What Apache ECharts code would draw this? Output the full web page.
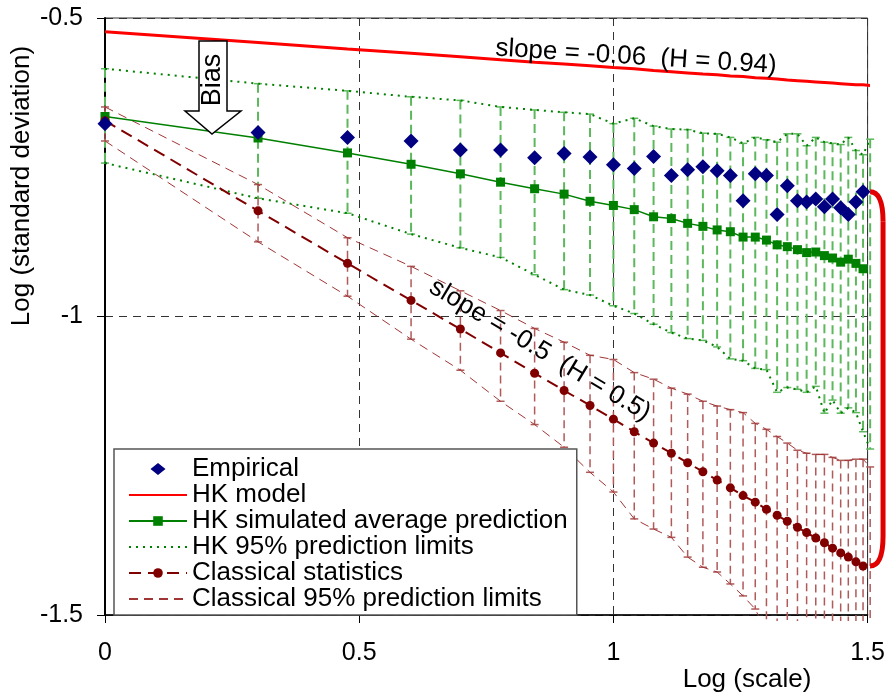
<!DOCTYPE html>
<html><head><meta charset="utf-8">
<script src="https://cdn.jsdelivr.net/npm/echarts@6/dist/echarts.min.js"></script>
<style>html,body{margin:0;padding:0;background:#fff}#c{width:888px;height:695px}</style>
</head><body><div id="c"></div>
<script>
// Log(scale) for scales k = 1..32
const logScale = [0, 0.301, 0.477, 0.602, 0.699, 0.778, 0.845, 0.903, 0.954, 1.000, 1.041, 1.079, 1.114, 1.146, 1.176, 1.204, 1.230, 1.255, 1.279, 1.301, 1.322, 1.342, 1.362, 1.380, 1.398, 1.415, 1.431, 1.447, 1.462, 1.477, 1.491, 1.505];
const empirical = [-0.677, -0.692, -0.700, -0.706, -0.721, -0.721, -0.734, -0.727, -0.733, -0.746, -0.752, -0.732, -0.764, -0.754, -0.749, -0.756, -0.764, -0.806, -0.761, -0.764, -0.829, -0.781, -0.806, -0.808, -0.803, -0.816, -0.803, -0.818, -0.829, -0.808, -0.791];
const hkModel = [-0.523, -0.541, -0.552, -0.559, -0.565, -0.570, -0.574, -0.577, -0.580, -0.583, -0.585, -0.588, -0.590, -0.592, -0.594, -0.595, -0.597, -0.598, -0.600, -0.601, -0.602, -0.604, -0.605, -0.606, -0.607, -0.608, -0.609, -0.610, -0.611, -0.612, -0.612, -0.613];
const hkAverage = [-0.665, -0.701, -0.726, -0.745, -0.761, -0.775, -0.786, -0.795, -0.807, -0.814, -0.821, -0.833, -0.836, -0.844, -0.849, -0.855, -0.858, -0.867, -0.867, -0.872, -0.880, -0.883, -0.888, -0.893, -0.892, -0.898, -0.902, -0.909, -0.904, -0.911, -0.920];
const hkUpper = [-0.585, -0.610, -0.622, -0.632, -0.638, -0.649, -0.654, -0.658, -0.661, -0.677, -0.668, -0.681, -0.686, -0.687, -0.693, -0.694, -0.700, -0.710, -0.700, -0.704, -0.708, -0.694, -0.694, -0.714, -0.700, -0.708, -0.710, -0.712, -0.700, -0.722, -0.729, -0.703];
const hkLower = [-0.743, -0.802, -0.827, -0.862, -0.885, -0.901, -0.930, -0.955, -0.964, -0.982, -0.995, -1.013, -1.027, -1.037, -1.040, -1.051, -1.071, -1.074, -1.087, -1.089, -1.127, -1.119, -1.122, -1.127, -1.117, -1.162, -1.140, -1.162, -1.153, -1.161, -1.193, -1.222];
const classical = [-0.672, -0.823, -0.911, -0.973, -1.021, -1.061, -1.095, -1.124, -1.149, -1.172, -1.193, -1.212, -1.229, -1.245, -1.260, -1.274, -1.287, -1.300, -1.311, -1.323, -1.333, -1.343, -1.353, -1.362, -1.371, -1.379, -1.388, -1.396, -1.403, -1.411, -1.418];
const clsUpper = [-0.649, -0.779, -0.868, -0.916, -0.957, -0.990, -1.020, -1.043, -1.065, -1.072, -1.094, -1.105, -1.120, -1.130, -1.142, -1.150, -1.156, -1.161, -1.179, -1.189, -1.201, -1.212, -1.224, -1.229, -1.231, -1.231, -1.236, -1.241, -1.241, -1.239, -1.239, -1.252];
const clsLower = [-0.706, -0.875, -0.966, -1.038, -1.090, -1.142, -1.181, -1.219, -1.261, -1.294, -1.339, -1.356, -1.370, -1.403, -1.420, -1.428, -1.448, -1.468, -1.490, -1.530, -1.550, -1.560, -1.570, -1.580, -1.590, -1.600, -1.610, -1.620, -1.630, -1.640, -1.650, -1.660];
const xTicks = ['0', '0.5', '1', '1.5'];
const legendNames = ['Empirical', 'HK model', 'HK simulated average prediction', 'HK 95% prediction limits', 'Classical statistics', 'Classical 95% prediction limits'];

const FONT = '"Liberation Sans", Arial, sans-serif';
const pair = ys => ys.map((v, i) => [logScale[i], v]);
const bars = (lo, hi) => lo.map((v, i) => [logScale[i], v, hi[i]]);
// legend icon: diamond centred in a 58 x 12 box (zero-length moves fix the box size)
const DIAMOND_ICON = 'path://M0,0L0.01,0M58,12L57.99,12M21.5,6L29,0L36.5,6L29,12Z';

function barRenderer(color, width, dash, cap, bottomClip) {
  return function (params, api) {
    const x = api.value(0);
    const a = api.coord([x, api.value(2)]);
    const b = api.coord([x, api.value(1)]);
    const children = [];
    let by = b[1];
    let showLowCap = true;
    if (bottomClip) {
      const yb = api.coord([0, -1.5])[1];
      if (by > yb + 6) { by = yb + 6; showLowCap = false; }
    }
    children.push({ type: 'line', shape: { x1: a[0], y1: a[1], x2: b[0], y2: by }, style: { stroke: color, lineWidth: width, lineDash: dash } });
    children.push({ type: 'line', shape: { x1: a[0] - cap, y1: a[1], x2: a[0] + cap, y2: a[1] }, style: { stroke: color, lineWidth: 1.5 } });
    if (showLowCap) children.push({ type: 'line', shape: { x1: b[0] - cap, y1: b[1], x2: b[0] + cap, y2: b[1] }, style: { stroke: color, lineWidth: 1.5 } });
    return { type: 'group', children };
  };
}

const chart = echarts.init(document.getElementById('c'));
const last = empirical.length - 1;
chart.setOption({
  animation: false,
  textStyle: { fontFamily: FONT },
  grid: { left: 105, top: 18, right: 18, bottom: 80, show: true, borderColor: '#333', borderWidth: 1 },
  xAxis: {
    type: 'value', min: 0, max: 1.5, interval: 0.5,
    axisLine: { onZero: false, lineStyle: { color: '#000', width: 1.5 } },
    axisTick: { length: 8, lineStyle: { color: '#000', width: 1 } },
    axisLabel: { fontSize: 25, color: '#000', margin: 26, fontFamily: FONT, showMaxLabel: true, showMinLabel: true,
      formatter: v => xTicks[Math.round(v / 0.5)] },
    splitLine: { show: true, lineStyle: { color: '#333', width: 1, type: [8, 6] } }
  },
  yAxis: {
    type: 'value', min: -1.5, max: -0.5, interval: 0.5,
    axisLine: { show: true, onZero: false, lineStyle: { color: '#000', width: 2 } },
    axisTick: { show: true, length: 8, lineStyle: { color: '#000', width: 1 } },
    axisLabel: { fontSize: 25, color: '#000', margin: 22, fontFamily: FONT },
    splitLine: { show: true, lineStyle: { color: '#333', width: 1, type: [8, 6] } }
  },
  legend: {
    orient: 'vertical', left: 114, top: 449,
    padding: [7, 9, 3, 14], itemGap: 0, itemWidth: 58, itemHeight: 12,
    backgroundColor: '#fff', borderColor: '#555', borderWidth: 1.5, borderRadius: 0,
    textStyle: { fontSize: 26, lineHeight: 25, color: '#000', fontFamily: FONT },
    data: [
      { name: legendNames[0], icon: DIAMOND_ICON, itemStyle: { opacity: 1 } },
      { name: legendNames[1], itemStyle: { opacity: 0 } },
      { name: legendNames[2] },
      { name: legendNames[3], itemStyle: { opacity: 0 } },
      { name: legendNames[4] },
      { name: legendNames[5], itemStyle: { opacity: 0 } }
    ],
    selectedMode: false
  },
  graphic: [
    { type: 'polygon', z: 50, shape: { points: [[199, 41], [227, 41], [227, 111], [241, 111], [212, 134], [185, 111], [199, 111]] },
      style: { fill: '#fff', stroke: '#000', lineWidth: 1.5 } },
    { type: 'text', z: 51, x: 213, y: 80, rotation: Math.PI / 2,
      style: { text: 'Bias', font: '27px ' + FONT, fill: '#000', align: 'center', verticalAlign: 'middle', textAlign: 'center', textVerticalAlign: 'middle' } },
    { type: 'text', z: 51, x: 636, y: 57, rotation: -0.062,
      style: { text: 'slope = -0.06  (H = 0.94)', font: '26px ' + FONT, fill: '#000', align: 'center', verticalAlign: 'middle', textAlign: 'center', textVerticalAlign: 'middle' } },
    { type: 'text', z: 51, x: 540, y: 350, rotation: -0.54,
      style: { text: 'slope = -0.5  (H = 0.5)', font: '26px ' + FONT, fill: '#000', align: 'center', verticalAlign: 'middle', textAlign: 'center', textVerticalAlign: 'middle' } },
    { type: 'text', z: 51, x: 22, y: 186, rotation: Math.PI / 2,
      style: { text: 'Log (standard deviation)', font: '26px ' + FONT, fill: '#000', align: 'center', verticalAlign: 'middle', textAlign: 'center', textVerticalAlign: 'middle' } },
    { type: 'text', z: 51, x: 747, y: 680,
      style: { text: 'Log (scale)', font: '26px ' + FONT, fill: '#000', align: 'center', verticalAlign: 'middle', textAlign: 'center', textVerticalAlign: 'middle' } }
  ],
  series: [
    { type: 'custom', name: 'hkBars', silent: true, z: 1, clip: false, data: bars(hkLower, hkUpper),
      renderItem: barRenderer('#5DB85D', 2, [9, 5], 4, false) },
    { type: 'custom', name: 'clsBars', silent: true, z: 1, clip: false, data: bars(clsLower, clsUpper),
      renderItem: barRenderer('#B05A5A', 1.5, [8, 5], 4, true) },
    { type: 'line', name: legendNames[5], data: pair(clsUpper), symbol: 'none', z: 2,
      lineStyle: { color: '#A03535', width: 1, type: [9, 6] }, itemStyle: { color: '#A03535' } },
    { type: 'line', name: legendNames[5], data: pair(clsLower), symbol: 'none', z: 2,
      lineStyle: { color: '#A03535', width: 1, type: [9, 6] }, itemStyle: { color: '#A03535' } },
    { type: 'line', name: legendNames[3], data: pair(hkUpper), symbol: 'none', z: 3,
      lineStyle: { color: '#008000', width: 2, type: [2, 5] }, itemStyle: { color: '#008000' } },
    { type: 'line', name: legendNames[3], data: pair(hkLower), symbol: 'none', z: 3,
      lineStyle: { color: '#008000', width: 2, type: [2, 5] }, itemStyle: { color: '#008000' } },
    { type: 'line', name: legendNames[1], data: pair(hkModel), symbol: 'none', z: 4, clip: false,
      lineStyle: { color: '#FF0000', width: 3 }, itemStyle: { color: '#FF0000' } },
    { type: 'line', name: legendNames[2], data: pair(hkAverage), symbol: 'rect', symbolSize: 9, z: 5,
      lineStyle: { color: '#008000', width: 1.5 }, itemStyle: { color: '#008000' } },
    { type: 'line', name: legendNames[4], data: pair(classical), symbol: 'circle', symbolSize: 9, z: 5,
      lineStyle: { color: '#800000', width: 2, type: [12, 7] }, itemStyle: { color: '#800000' } },
    { type: 'scatter', name: legendNames[0], data: pair(empirical), symbol: 'diamond', symbolSize: 15, z: 6,
      itemStyle: { color: '#000080', opacity: 1 } },
    { type: 'custom', name: 'bracket', silent: true, z: 7, clip: false,
      data: [[logScale[last], empirical[last], classical[last]]],
      renderItem: function (params, api) {
        const p1 = api.coord([api.value(0), api.value(1)]);
        const p2 = api.coord([api.value(0), api.value(2)]);
        const x0 = p1[0] + 7, xr = x0 + 13, r = 30;
        const st = { stroke: '#E00000', lineWidth: 5, fill: null };
        return { type: 'group', children: [
          { type: 'bezierCurve', shape: { x1: x0, y1: p1[1], cpx1: xr, cpy1: p1[1], x2: xr, y2: p1[1] + r }, style: st },
          { type: 'line', shape: { x1: xr, y1: p1[1] + r, x2: xr, y2: p2[1] - r }, style: st },
          { type: 'bezierCurve', shape: { x1: xr, y1: p2[1] - r, cpx1: xr, cpy1: p2[1], x2: x0, y2: p2[1] }, style: st }
        ] };
      } }
  ]
});
</script></body></html>
